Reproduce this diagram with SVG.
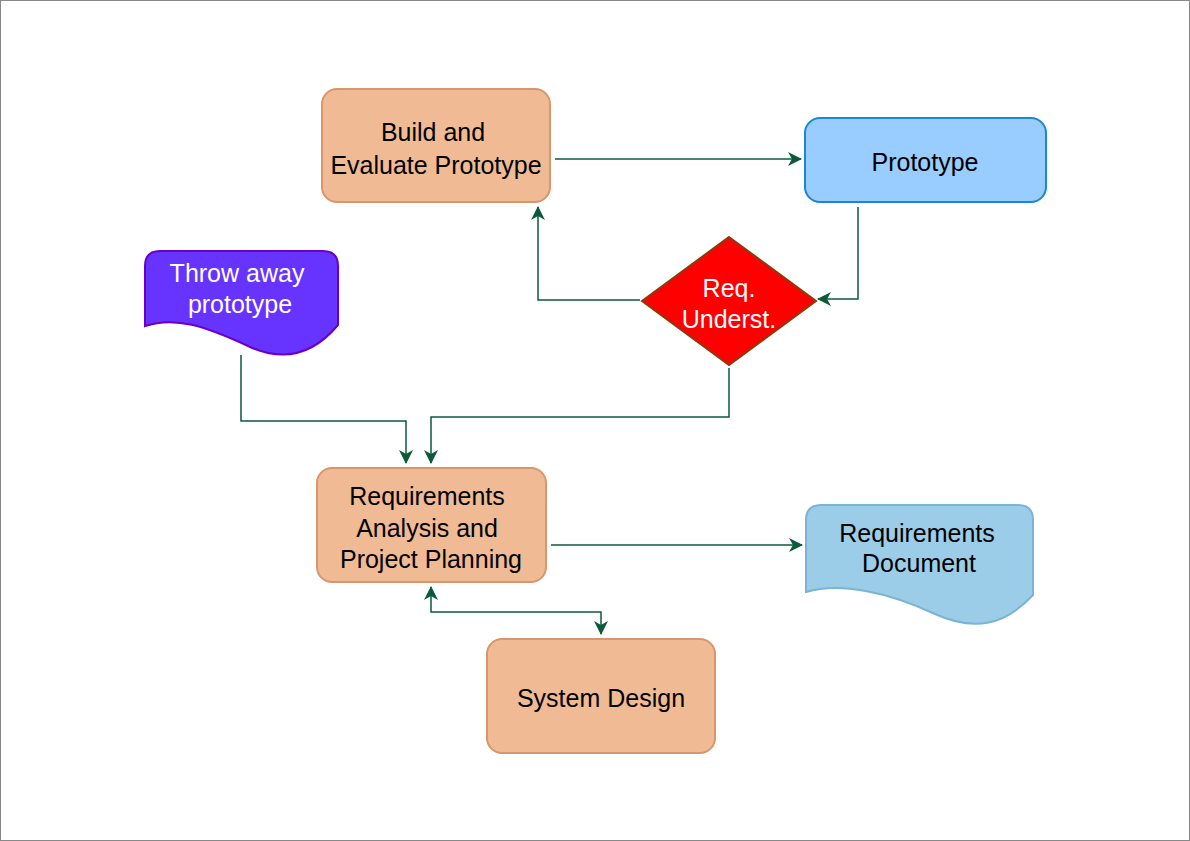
<svg xmlns="http://www.w3.org/2000/svg" width="1190" height="841" viewBox="0 0 1190 841">
<style>
.t{font-family:"Liberation Sans",Arial,sans-serif;font-size:25px;text-anchor:middle;dominant-baseline:central;fill:#000}
.w{fill:#fff}
.orange{fill:#f0bb94;stroke:#d9956b;stroke-width:2}
.c{fill:none;stroke:#0b5a3a;stroke-width:1.5}
</style>
<defs>
<marker id="ah" viewBox="0 0 14 14" refX="13" refY="7" markerWidth="14" markerHeight="14" markerUnits="userSpaceOnUse" orient="auto-start-reverse">
<path d="M0,0 L14,7 L0,14 L4,7 Z" fill="#0b5a3a"/>
</marker>
</defs>
<rect x="0.5" y="0.5" width="1189" height="840" fill="#fff" stroke="#888" stroke-width="1"/>
<g id="connectors">
<path class="c" d="M555,159 L801,159" marker-end="url(#ah)"/>
<path class="c" d="M858,207 L858,299 L818,299" marker-end="url(#ah)"/>
<path class="c" d="M640,300 L538,300 L538,207" marker-end="url(#ah)"/>
<path class="c" d="M241,355 L241,421 L406,421 L406,463" marker-end="url(#ah)"/>
<path class="c" d="M729,368 L729,417 L431,417 L431,463" marker-end="url(#ah)"/>
<path class="c" d="M551,545 L802,545" marker-end="url(#ah)"/>
<path class="c" d="M431,587 L431,612 L601,612 L601,634" marker-start="url(#ah)" marker-end="url(#ah)"/>
</g>
<g id="build">
<rect class="orange" x="322" y="89" width="228" height="113" rx="15"/>
<text class="t" x="433" y="132">Build and</text>
<text class="t" x="436" y="165">Evaluate Prototype</text>
</g>
<g id="prototype">
<rect x="805" y="118" width="241" height="84" rx="15" fill="#99ccff" stroke="#1a87d0" stroke-width="2"/>
<text class="t" x="925" y="162">Prototype</text>
</g>
<g id="decision">
<path d="M729,237 L816,301 L729,365 L642,301 Z" fill="#ff0000" stroke="#8b3a0a" stroke-width="2"/>
<text class="t w" x="729" y="288">Req.</text>
<text class="t w" x="729" y="319">Underst.</text>
</g>
<g id="throwaway">
<path d="M145,266 Q145,251 160,251 L323,251 Q338,251 338,266 L338,325 C312,356 282,362 248,346 C205,326 175,316 145,326 Z" fill="#6633ff" stroke="#6a00c8" stroke-width="2"/>
<text class="t w" x="237" y="273">Throw away</text>
<text class="t w" x="240" y="304">prototype</text>
</g>
<g id="reqanalysis">
<rect class="orange" x="317" y="468" width="229" height="114" rx="15"/>
<text class="t" x="427" y="496">Requirements</text>
<text class="t" x="427" y="528">Analysis and</text>
<text class="t" x="431" y="559">Project Planning</text>
</g>
<g id="reqdoc">
<path d="M806,520 Q806,505 821,505 L1018,505 Q1033,505 1033,520 L1033,595 C1005,625 975,632 935,614 C888,592 840,582 806,592 Z" fill="#9ccde8" stroke="#7ab3d4" stroke-width="2"/>
<text class="t" x="917" y="533">Requirements</text>
<text class="t" x="919" y="563">Document</text>
</g>
<g id="sysdesign">
<rect class="orange" x="487" y="639" width="228" height="114" rx="15"/>
<text class="t" x="601" y="698">System Design</text>
</g>
</svg>
